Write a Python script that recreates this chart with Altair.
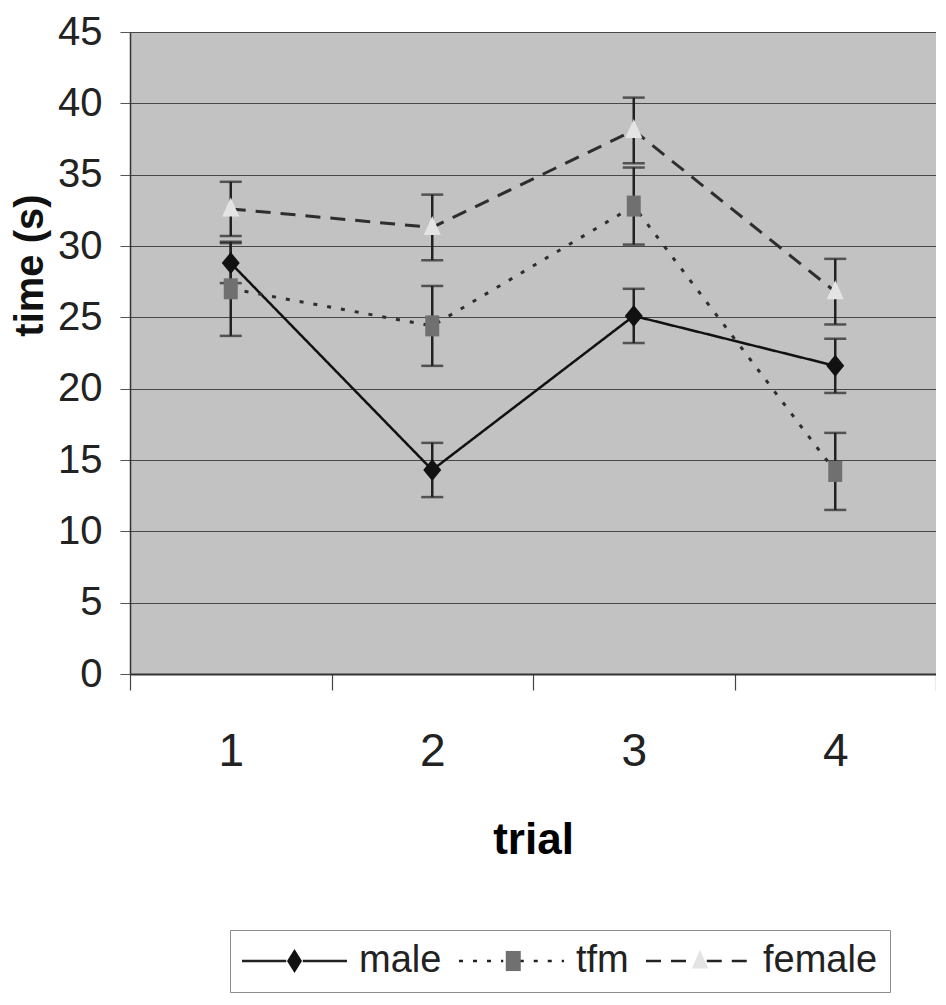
import math
import altair as alt
import pandas as pd

# ---------------- data ----------------
trials = ["1", "2", "3", "4"]
series_names = ["male", "tfm", "female"]
male_time = [28.8, 14.3, 25.1, 21.6]
male_err = [1.4, 1.9, 1.9, 1.9]
tfm_time = [27.0, 24.4, 32.8, 14.2]
tfm_err = [3.3, 2.8, 2.7, 2.7]
female_time = [32.6, 31.3, 38.1, 26.8]
female_err = [1.9, 2.3, 2.3, 2.3]
y_ticks = [0, 5, 10, 15, 20, 25, 30, 35, 40, 45]

rows = []
for name, vals, errs in [("male", male_time, male_err),
                         ("tfm", tfm_time, tfm_err),
                         ("female", female_time, female_err)]:
    for t, v, e in zip(trials, vals, errs):
        rows.append({"trial": t, "series": name, "time": v,
                     "lo": round(v - e, 2), "hi": round(v + e, 2)})
df = pd.DataFrame(rows)

# ---------------- styles ----------------
FONT = "Liberation Sans, Arial, sans-serif"
LEG_FS = 38
SYM_SIZE = 900
SYM_OFFSET = 33.5
LABEL_OFFSET = 45.5
COL_PAD = 12

line_colors = {"male": "#111111", "tfm": "#2e2e2e", "female": "#2e2e2e"}
line_widths = {"male": 2.5, "tfm": 3, "female": 3}
dashes = {"male": [1, 0], "tfm": [4, 10], "female": [15, 10]}
fills = {"male": "#111111", "tfm": "#707070", "female": "#e4e4e4"}
plot_shapes = {
    "male": "M0,-1.1L0.9,0L0,1.1L-0.9,0Z",
    "tfm": "M-0.7,-1.05H0.7V1.05H-0.7Z",
    "female": "M0,-1.15L0.85,0.75H-0.85Z",
}
legend_line_shape = "M-3.5,0H-0.55M0.55,0H3.5"

# Legend marker glyphs (unit = 15px). The marker-only legend has no label text,
# so each glyph is shifted right to sit on its line-legend entry.
ADV = {"m": 0.833, "a": 0.556, "l": 0.222, "e": 0.556, "t": 0.278, "f": 0.278}
LAYOUT_WIDTH_FACTOR = 1.09  # label extent used by the legend layout vs. glyph advances


def text_w(s):
    return sum(ADV[c] for c in s) * LEG_FS * LAYOUT_WIDTH_FACTOR


UNIT = math.sqrt(SYM_SIZE) / 2.0
ENTRY = max(math.ceil(math.sqrt(SYM_SIZE)), LEG_FS)
LABEL_X = ENTRY + SYM_OFFSET + LABEL_OFFSET
CENTER = ENTRY / 2.0 + SYM_OFFSET
HALF = {"diamond": 0.5, "square": 0.5, "triangle": 0.55}


def marker_path(kind, dx):
    if kind == "diamond":
        return f"M{dx:.3f},-0.8L{dx + 0.5:.3f},0L{dx:.3f},0.8L{dx - 0.5:.3f},0Z"
    if kind == "square":
        return f"M{dx - 0.5:.3f},-0.67H{dx + 0.5:.3f}V0.67H{dx - 0.5:.3f}Z"
    return f"M{dx:.3f},-0.75L{dx + 0.55:.3f},0.5H{dx - 0.55:.3f}Z"


marker_kinds = ["diamond", "square", "triangle"]
legend_marker_shapes = []
a_pos, b_pos = 0.0, 0.0
for kind, name in zip(marker_kinds, series_names):
    shift = a_pos - b_pos
    legend_marker_shapes.append(marker_path(kind, shift / UNIT))
    a_pos += LABEL_X + text_w(name) + COL_PAD
    b_pos += max(LABEL_X, CENTER + shift + HALF[kind] * UNIT) + COL_PAD

x_enc = alt.X(
    "trial:O",
    scale=alt.Scale(type="band", domain=trials, paddingInner=0, paddingOuter=0),
    axis=alt.Axis(
        title="trial", labelAngle=0, tickBand="extent", tickSize=16,
        tickColor="#444444", tickWidth=1.2, domainColor="#333333", domainWidth=2,
        labelFont=FONT, labelFontSize=46, labelColor="#222222",
        labelBaseline="alphabetic", labelPadding=75,
        titleFont=FONT, titleFontSize=44, titleFontWeight="bold", titleColor="#000000",
        titleBaseline="alphabetic", titleY=179, grid=False,
    ),
)
y_enc = alt.Y(
    "time:Q",
    scale=alt.Scale(domain=[0, 45], nice=False, zero=True),
    axis=alt.Axis(
        title="time (s)", values=y_ticks, tickSize=10, tickColor="#555555",
        domainColor="#333333", domainWidth=1.5,
        grid=True, gridColor="#474747", gridWidth=1,
        labelFont=FONT, labelFontSize=40, labelColor="#222222", labelPadding=18,
        titleFont=FONT, titleFontSize=40, titleFontWeight="bold", titleColor="#111111",
        titleX=-100, titleY=233, titleAlign="center", titleBaseline="middle",
    ),
)

base = alt.Chart(df)

layers = []
# lines
for s in series_names:
    layers.append(
        base.transform_filter(alt.datum.series == s)
        .mark_line(color=line_colors[s], strokeWidth=line_widths[s], strokeDash=dashes[s])
        .encode(x=x_enc, y=y_enc)
    )
# error bars
layers.append(
    base.mark_rule(color="#222222", strokeWidth=2.5).encode(x=x_enc, y="lo:Q", y2="hi:Q")
)
layers.append(
    base.mark_tick(orient="horizontal", color="#222222", size=22, thickness=2.5)
    .encode(x=x_enc, y="lo:Q")
)
layers.append(
    base.mark_tick(orient="horizontal", color="#222222", size=22, thickness=2.5)
    .encode(x=x_enc, y="hi:Q")
)
# markers
for s in series_names:
    layers.append(
        base.transform_filter(alt.datum.series == s)
        .mark_point(shape=plot_shapes[s], filled=True, size=400, color=fills[s],
                    opacity=1, strokeWidth=0)
        .encode(x=x_enc, y=y_enc)
    )

leg_common = dict(
    orient="none", legendX=100, legendY=898, direction="horizontal", title=None,
    padding=12, symbolSize=SYM_SIZE, symbolOffset=SYM_OFFSET, labelOffset=LABEL_OFFSET,
    columnPadding=COL_PAD, labelFont=FONT, labelFontSize=LEG_FS, labelColor="#222222",
    labelBaseline="middle",
)

# legend: line part, with the labels and the box
layers.append(
    base.transform_filter("false")
    .transform_calculate(series_l="datum.series + ' '")
    .mark_point(shape=legend_line_shape, filled=False, color="#222222", strokeWidth=2.5,
                size=SYM_SIZE, opacity=1)
    .encode(
        x=x_enc, y=y_enc,
        strokeDash=alt.StrokeDash(
            "series_l:N",
            scale=alt.Scale(domain=[s + " " for s in series_names],
                            range=[dashes[s] for s in series_names]),
            legend=alt.Legend(symbolStrokeWidth=2.5, symbolStrokeColor="#222222",
                              labelExpr="trim(datum.label)",
                              strokeColor="#8c8c8c", **leg_common),
        ),
    )
)
# legend: marker part (no label text)
leg_marker = alt.Legend(symbolStrokeWidth=0, labelExpr="''", **leg_common)
layers.append(
    base.transform_filter("false")
    .mark_point(filled=True, size=SYM_SIZE, opacity=1, strokeWidth=0)
    .encode(
        x=x_enc, y=y_enc,
        color=alt.Color("series:N",
                        scale=alt.Scale(domain=series_names,
                                        range=[fills[s] for s in series_names]),
                        legend=leg_marker),
        shape=alt.Shape("series:N",
                        scale=alt.Scale(domain=series_names, range=legend_marker_shapes),
                        legend=leg_marker),
    )
)

chart = (
    alt.layer(*layers)
    .properties(
        width=806, height=642,
        padding={"left": 122, "top": 24, "right": 0, "bottom": 319},
        autosize=alt.AutoSizeParams(type="none"),
        background="#ffffff",
    )
    .configure_view(fill="#c2c2c2", stroke=None)
)

chart.save("out.html", embed_options={"renderer": "svg", "actions": False})
